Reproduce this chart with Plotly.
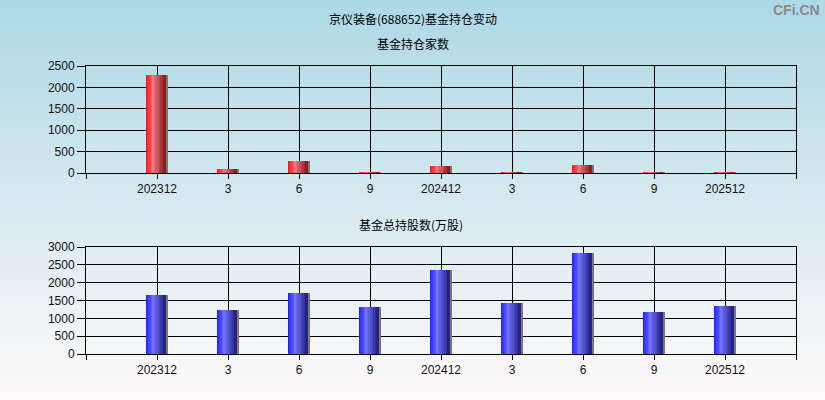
import plotly.graph_objects as go

# ---- data ----
categories = ["202312", "3", "6", "9", "202412", "3", "6", "9", "202512"]
fund_count = [2290, 100, 280, 20, 165, 20, 195, 20, 20]
fund_shares = [1665, 1245, 1720, 1325, 2365, 1440, 2840, 1185, 1355]

title_main = "京仪装备(688652)基金持仓变动"
title_top = "基金持仓家数"
title_bot = "基金总持股数(万股)"
watermark = "CFi.CN"

W, H = 825, 400
xs = list(range(1, len(categories) + 1))

def lerp(a, b, t):
    return tuple(int(round(a[i] + (b[i] - a[i]) * t)) for i in range(3))

def grad(stops, t):
    for (t0, c0), (t1, c1) in zip(stops, stops[1:]):
        if t <= t1:
            return lerp(c0, c1, (t - t0) / (t1 - t0) if t1 > t0 else 0)
    return stops[-1][1]

red_stops = [(0, (255, 10, 10)), (0.38, (238, 120, 130)), (1, (135, 25, 25))]
blue_stops = [(0, (25, 25, 255)), (0.38, (115, 115, 255)), (1, (30, 30, 125))]

fig = go.Figure()

bar_w = 0.27
shadow_w = 0.03
n_strips = 12

def add_bars(vals, stops, xa, ya):
    sw = bar_w / n_strips
    for i in range(n_strips):
        c = grad(stops, (i + 0.5) / n_strips)
        fig.add_trace(go.Bar(
            x=xs, y=vals, width=sw * 1.05, offset=-0.15 + i * sw,
            marker=dict(color="rgb(%d,%d,%d)" % c, line=dict(width=0)),
            xaxis=xa, yaxis=ya, showlegend=False, hoverinfo="skip"))
    fig.add_trace(go.Bar(
        x=xs, y=vals, width=shadow_w, offset=-0.15 + bar_w,
        marker=dict(color="rgb(120,120,120)", line=dict(width=0)),
        xaxis=xa, yaxis=ya, showlegend=False, hoverinfo="skip"))

add_bars(fund_count, red_stops, "x", "y")
add_bars(fund_shares, blue_stops, "x2", "y2")

# background gradient
shapes = []
n_bg = 100
top_c = (173, 216, 230)
bot_c = (255, 250, 250)
for i in range(n_bg):
    c = lerp(top_c, bot_c, i / (n_bg - 1))
    shapes.append(dict(type="rect", xref="paper", yref="paper",
                       x0=0, x1=1, y0=1 - (i + 1) / n_bg - 0.001, y1=1 - i / n_bg,
                       fillcolor="rgb(%d,%d,%d)" % c, line=dict(width=0), layer="below"))

tickvals = list(range(0, len(categories) + 2))
ticktext = [""] + categories + [""]
xdom = [86 / W, 796 / W]
tickfont = dict(family="Liberation Sans, Arial", size=12, color="#111111")

xcommon = dict(range=[0, len(categories) + 1], tickvals=tickvals, ticktext=ticktext,
               showgrid=True, gridcolor="black", gridwidth=1, showline=True,
               linecolor="black", linewidth=1, mirror=True, ticks="outside",
               ticklen=5, tickcolor="black", zeroline=False, tickfont=tickfont,
               domain=xdom, fixedrange=True, automargin=False)
ycommon = dict(showgrid=True, gridcolor="black", gridwidth=1, showline=True,
               linecolor="black", linewidth=1, mirror=True, ticks="outside",
               ticklen=8, tickcolor="black", zeroline=False, tickfont=tickfont,
               dtick=500, fixedrange=True, automargin=False)

cjk = dict(family="Noto Sans CJK SC", size=12, color="black")

fig.update_layout(
    width=W, height=H, autosize=False,
    margin=dict(l=0, r=0, t=0, b=0, pad=0, autoexpand=False),
    paper_bgcolor="rgba(0,0,0,0)", plot_bgcolor="rgba(0,0,0,0)",
    barmode="overlay", bargap=0,
    shapes=shapes,
    xaxis=dict(**xcommon, anchor="y"),
    yaxis=dict(**ycommon, range=[0, 2500], domain=[1 - 173 / H, 1 - 66 / H], anchor="x"),
    xaxis2=dict(**xcommon, anchor="y2"),
    yaxis2=dict(**ycommon, range=[0, 3000], domain=[1 - 354 / H, 1 - 247 / H], anchor="x2"),
    annotations=[
        dict(text=title_main, x=413 / W, y=1 - 18 / H, xref="paper", yref="paper",
             showarrow=False, font=cjk, xanchor="center", yanchor="middle"),
        dict(text=title_top, x=413 / W, y=1 - 43 / H, xref="paper", yref="paper",
             showarrow=False, font=cjk, xanchor="center", yanchor="middle"),
        dict(text=title_bot, x=411 / W, y=1 - 224 / H, xref="paper", yref="paper",
             showarrow=False, font=cjk, xanchor="center", yanchor="middle"),
        dict(text="<b>" + watermark + "</b>", x=822 / W, y=1 - 10 / H, xref="paper", yref="paper",
             showarrow=False, xanchor="right", yanchor="middle",
             font=dict(family="Liberation Sans, Arial", size=14, color="#8a8a8a")),
    ],
)

fig.write_html("out.html", config={"displayModeBar": False},
               post_script="document.body.style.margin='0';document.body.style.overflow='hidden';")
